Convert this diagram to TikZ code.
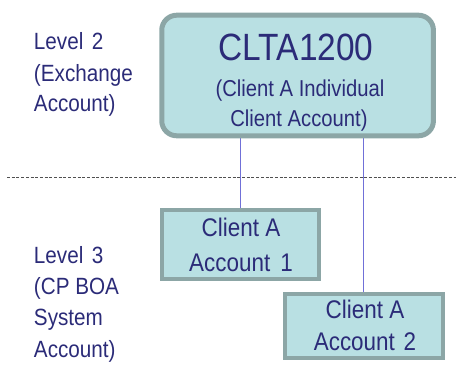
\documentclass[tikz,border=0pt]{standalone}
\usepackage{fontspec}
\setmainfont{Liberation Sans}
\newfontfamily\cf[FakeStretch=0.88]{Liberation Sans}
\usetikzlibrary{backgrounds}
\definecolor{boxfill}{HTML}{B9E0E3}
\definecolor{boxedge}{HTML}{8CA6A6}
\definecolor{ink}{HTML}{2B2B78}
\definecolor{link}{HTML}{7070D8}
\definecolor{rule}{HTML}{505050}
\tikzset{
  acct/.style={draw=boxedge, fill=boxfill, line width=4pt, inner sep=0pt, outer sep=0pt},
  txt/.style={text=ink, inner sep=0pt, outer sep=0pt, anchor=base},
  side/.style={txt, anchor=base west, font=\cf\fontsize{23.5}{23.5}\selectfont},
  big/.style={txt, font=\cf\fontsize{38}{38}\selectfont},
  mid/.style={txt, font=\cf\fontsize{23}{23}\selectfont},
  inbox/.style={txt, font=\cf\fontsize{25.5}{25.5}\selectfont},
  wire/.style={draw=link, line width=1.9pt},
}
\begin{document}
\begin{tikzpicture}[x=1pt, y=-1pt]
\useasboundingbox (0,0) rectangle (458,365);

% level separator
\coordinate (sepL) at (7,177);
\coordinate (sepR) at (456,177);
\draw[rule, line width=0.9pt, dash pattern=on 3pt off 1.7pt] (sepL) -- (sepR);

% level captions
\node[side] (l2a) at (34,49.3) {Level\hspace{0.12em} 2};
\node[side] (l2b) at (34,81.0) {(Exchange};
\node[side] (l2c) at (34,111.7) {Account)};
\node[side] (l3a) at (34,263) {Level\hspace{0.12em} 3};
\node[side] (l3b) at (34,294.5) {(CP BOA};
\node[side] (l3c) at (34,325.5) {System};
\node[side] (l3d) at (34,357) {Account)};

% exchange account
\node[acct, line width=5pt, rounded corners=15pt, minimum width=271.7pt, minimum height=120.6pt] (top) at (297.6,75.5) {};
\node[big] (topA) at (296,60) {CLTA1200};
\node[mid] (topB) at (300,96) {(Client A Individual};
\node[mid] (topC) at (299,126.5) {Client Account)};

% system accounts
\node[acct, minimum width=157.4pt, minimum height=68.4pt] (b1) at (240.5,244.5) {};
\node[inbox] (b1a) at (241,236.7) {Client A};
\node[inbox] (b1b) at (241,271.7) {Account\hspace{0.15em} 1};

\node[acct, minimum width=157.7pt, minimum height=64.3pt] (b2) at (364.2,325.9) {};
\node[inbox] (b2a) at (365,318.3) {Client A};
\node[inbox] (b2b) at (365,350) {Account\hspace{0.1em} 2};

% links between levels
\begin{scope}[on background layer]
  \draw[wire] (b1.north) -- (b1.north |- top.south);
  \draw[wire] ([xshift=-0.7pt]b2.north) -- ([xshift=-0.7pt]b2.north |- top.south);
\end{scope}
\end{tikzpicture}
\end{document}
